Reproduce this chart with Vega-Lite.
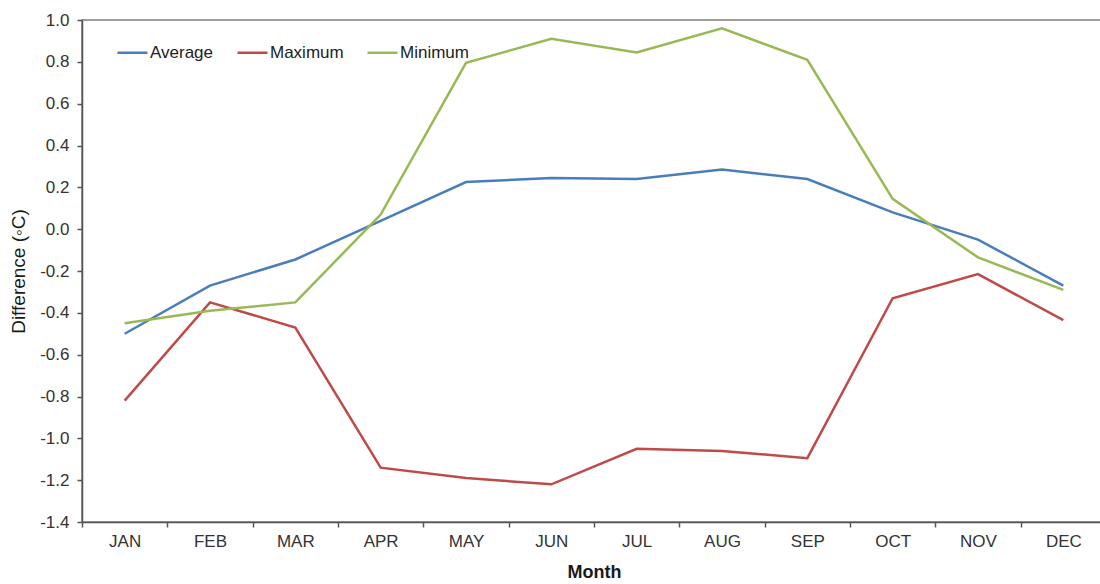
{
  "$schema": "https://vega.github.io/schema/vega-lite/v6.json",
  "width": 1024,
  "height": 502,
  "autosize": "none",
  "padding": {"left": 82, "top": 20, "right": 0, "bottom": 62},
  "background": "white",
  "config": {
    "font": "Liberation Sans",
    "view": {"stroke": "#7f7f7f", "strokeWidth": 1.5},
    "axis": {"labelFont": "Liberation Sans", "titleFont": "Liberation Sans", "labelColor": "#333333", "titleColor": "#1a1a1a", "domainColor": "#555555", "tickColor": "#555555", "labelFontSize": 17, "titleFontSize": 18, "titleFontWeight": "bold", "domainWidth": 1.5, "tickWidth": 1.5}
  },
  "data": {"values": [
    {"month": "JAN", "series": "Average", "value": -0.50},
    {"month": "FEB", "series": "Average", "value": -0.27},
    {"month": "MAR", "series": "Average", "value": -0.145},
    {"month": "APR", "series": "Average", "value": 0.04},
    {"month": "MAY", "series": "Average", "value": 0.225},
    {"month": "JUN", "series": "Average", "value": 0.245},
    {"month": "JUL", "series": "Average", "value": 0.24},
    {"month": "AUG", "series": "Average", "value": 0.285},
    {"month": "SEP", "series": "Average", "value": 0.24},
    {"month": "OCT", "series": "Average", "value": 0.08},
    {"month": "NOV", "series": "Average", "value": -0.05},
    {"month": "DEC", "series": "Average", "value": -0.27},
    {"month": "JAN", "series": "Maximum", "value": -0.82},
    {"month": "FEB", "series": "Maximum", "value": -0.35},
    {"month": "MAR", "series": "Maximum", "value": -0.47},
    {"month": "APR", "series": "Maximum", "value": -1.14},
    {"month": "MAY", "series": "Maximum", "value": -1.19},
    {"month": "JUN", "series": "Maximum", "value": -1.22},
    {"month": "JUL", "series": "Maximum", "value": -1.05},
    {"month": "AUG", "series": "Maximum", "value": -1.06},
    {"month": "SEP", "series": "Maximum", "value": -1.095},
    {"month": "OCT", "series": "Maximum", "value": -0.33},
    {"month": "NOV", "series": "Maximum", "value": -0.215},
    {"month": "DEC", "series": "Maximum", "value": -0.435},
    {"month": "JAN", "series": "Minimum", "value": -0.45},
    {"month": "FEB", "series": "Minimum", "value": -0.39},
    {"month": "MAR", "series": "Minimum", "value": -0.35},
    {"month": "APR", "series": "Minimum", "value": 0.07},
    {"month": "MAY", "series": "Minimum", "value": 0.795},
    {"month": "JUN", "series": "Minimum", "value": 0.91},
    {"month": "JUL", "series": "Minimum", "value": 0.845},
    {"month": "AUG", "series": "Minimum", "value": 0.96},
    {"month": "SEP", "series": "Minimum", "value": 0.81},
    {"month": "OCT", "series": "Minimum", "value": 0.145},
    {"month": "NOV", "series": "Minimum", "value": -0.135},
    {"month": "DEC", "series": "Minimum", "value": -0.29}
  ]},
  "mark": {"type": "line", "strokeWidth": 2.5},
  "encoding": {
    "x": {
      "field": "month", "type": "ordinal",
      "sort": ["JAN","FEB","MAR","APR","MAY","JUN","JUL","AUG","SEP","OCT","NOV","DEC"],
      "scale": {"type": "band", "paddingInner": 0, "paddingOuter": 0},
      "axis": {"title": "Month", "labelAngle": 0, "tickBand": "extent", "tickSize": 5, "labelPadding": 6, "titleY": 41, "grid": false}
    },
    "y": {
      "field": "value", "type": "quantitative",
      "scale": {"domain": [-1.4, 1.0], "nice": false, "zero": false},
      "axis": {"title": "Difference (◦C)", "titleFontWeight": "normal", "titleFontSize": 19, "values": [-1.4,-1.2,-1.0,-0.8,-0.6,-0.4,-0.2,0,0.2,0.4,0.6,0.8,1.0], "format": ".1f", "labelExpr": "replace(datum.label, '\u2212', '-')", "grid": false, "tickSize": 5, "labelPadding": 8, "titleX": -54}
    },
    "color": {
      "field": "series", "type": "nominal",
      "scale": {"domain": ["Average","Maximum","Minimum"], "range": ["#4a7ebb","#be4b48","#98b954"]},
      "legend": {"title": null, "orient": "none", "legendX": 34, "legendY": 16, "direction": "horizontal", "symbolType": "stroke", "symbolSize": 900, "symbolStrokeWidth": 2.5, "labelFontSize": 17, "labelColor": "#222222", "labelOffset": 1, "columnPadding": 18, "labelFont": "Liberation Sans"}
    }
  }
}
